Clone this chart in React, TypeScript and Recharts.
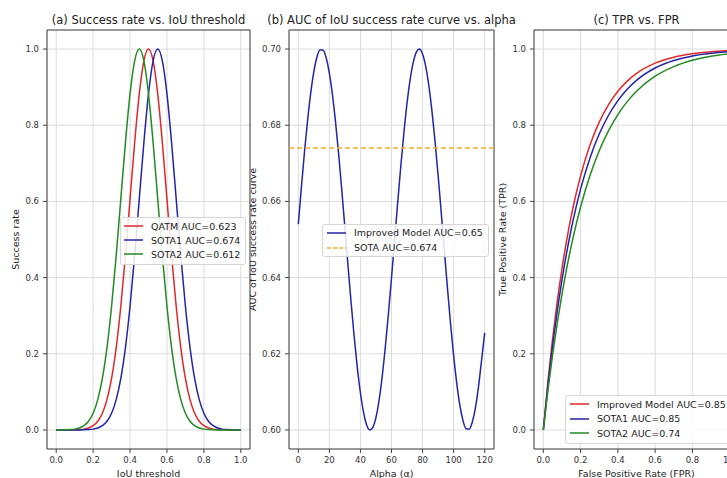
import { LineChart, Line, XAxis, YAxis, CartesianGrid, ReferenceArea, ReferenceLine } from 'recharts';

const FONT = '"DejaVu Sans", sans-serif';
const RED = '#e02828';
const BLUE = '#2424a8';
const GREEN = '#228b22';
const ORANGE = '#f5ad2e';

// (a) success rate vs IoU threshold
const iouThresholds = [0, 0.025, 0.05, 0.075, 0.1, 0.125, 0.15, 0.175, 0.2, 0.225, 0.25, 0.275, 0.3, 0.325, 0.35, 0.375, 0.4, 0.425, 0.45, 0.475, 0.5, 0.525, 0.55, 0.575, 0.6, 0.625, 0.65, 0.675, 0.7, 0.725, 0.75, 0.775, 0.8, 0.825, 0.85, 0.875, 0.9, 0.925, 0.95, 0.975, 1];
const qatmRate = [0, 0, 0, 0.0001, 0.0003, 0.0009, 0.0022, 0.0051, 0.0111, 0.0228, 0.0439, 0.0796, 0.1353, 0.2163, 0.3247, 0.4578, 0.6065, 0.7548, 0.8825, 0.9692, 1, 0.9692, 0.8825, 0.7548, 0.6065, 0.4578, 0.3247, 0.2163, 0.1353, 0.0796, 0.0439, 0.0228, 0.0111, 0.0051, 0.0022, 0.0009, 0.0003, 0.0001, 0, 0, 0];
const sota1Rate = [0, 0, 0, 0, 0, 0.0001, 0.0003, 0.0009, 0.0022, 0.0051, 0.0111, 0.0228, 0.0439, 0.0796, 0.1353, 0.2163, 0.3247, 0.4578, 0.6065, 0.7548, 0.8825, 0.9692, 1, 0.9692, 0.8825, 0.7548, 0.6065, 0.4578, 0.3247, 0.2163, 0.1353, 0.0796, 0.0439, 0.0228, 0.0111, 0.0051, 0.0022, 0.0009, 0.0003, 0.0001, 0];
const sota2Rate = [0, 0.0001, 0.0003, 0.0009, 0.0022, 0.0051, 0.0111, 0.0228, 0.0439, 0.0796, 0.1353, 0.2163, 0.3247, 0.4578, 0.6065, 0.7548, 0.8825, 0.9692, 1, 0.9692, 0.8825, 0.7548, 0.6065, 0.4578, 0.3247, 0.2163, 0.1353, 0.0796, 0.0439, 0.0228, 0.0111, 0.0051, 0.0022, 0.0009, 0.0003, 0.0001, 0, 0, 0, 0, 0];

// (b) AUC vs alpha
const alphaValues = [0, 2, 4, 6, 8, 10, 12, 14, 16, 18, 20, 22, 24, 26, 28, 30, 32, 34, 36, 38, 40, 42, 44, 46, 48, 50, 52, 54, 56, 58, 60, 62, 64, 66, 68, 70, 72, 74, 76, 78, 80, 82, 84, 86, 88, 90, 92, 94, 96, 98, 100, 102, 104, 106, 108, 110, 112, 114, 116, 118, 120];
const improvedAuc = [0.654, 0.6638, 0.6731, 0.6814, 0.6885, 0.6941, 0.6979, 0.6998, 0.6997, 0.6976, 0.6936, 0.6879, 0.6807, 0.6723, 0.6629, 0.6531, 0.6431, 0.6334, 0.6244, 0.6163, 0.6097, 0.6046, 0.6013, 0.6, 0.6007, 0.6033, 0.6078, 0.614, 0.6217, 0.6304, 0.6399, 0.6498, 0.6598, 0.6693, 0.6781, 0.6858, 0.692, 0.6965, 0.6992, 0.7, 0.6987, 0.6955, 0.6905, 0.6839, 0.6759, 0.6669, 0.6572, 0.6472, 0.6374, 0.628, 0.6195, 0.6123, 0.6065, 0.6025, 0.6003, 0.6002, 0.602, 0.6057, 0.6113, 0.6183, 0.6255];
const sotaAuc = 0.674;

// (c) ROC
const fprValues = [0, 0.025, 0.05, 0.075, 0.1, 0.125, 0.15, 0.175, 0.2, 0.25, 0.3, 0.35, 0.4, 0.45, 0.5, 0.6, 0.7, 0.8, 0.9, 1];
const improvedTpr = [0, 0.1285, 0.2404, 0.338, 0.4231, 0.4972, 0.5618, 0.6181, 0.6671, 0.7472, 0.808, 0.8541, 0.8892, 0.9158, 0.9361, 0.9631, 0.9787, 0.9877, 0.9929, 0.9959];
const sota1Tpr = [0, 0.1175, 0.2212, 0.3127, 0.3935, 0.4647, 0.5276, 0.5831, 0.6321, 0.7135, 0.7769, 0.8262, 0.8647, 0.8946, 0.9179, 0.9502, 0.9698, 0.9817, 0.9889, 0.9933];
const sota2Tpr = [0, 0.1042, 0.1975, 0.2811, 0.356, 0.4231, 0.4831, 0.537, 0.5852, 0.6671, 0.7329, 0.7856, 0.828, 0.8619, 0.8892, 0.9286, 0.954, 0.9704, 0.9809, 0.9877];

const unitTicks = [0, 0.2, 0.4, 0.6, 0.8, 1.0];
const alphaTicks = [0, 20, 40, 60, 80, 100, 120];
const aucTicks = [0.6, 0.62, 0.64, 0.66, 0.68, 0.7];

const iouData = iouThresholds.map((x, i) => ({ x, qatm: qatmRate[i], sota1: sota1Rate[i], sota2: sota2Rate[i] }));
const alphaData = alphaValues.map((x, i) => ({ x, auc: improvedAuc[i] }));
const rocData = fprValues.map((x, i) => ({ x, improved: improvedTpr[i], sota1: sota1Tpr[i], sota2: sota2Tpr[i] }));

const tick = { fontSize: 8.5, fill: '#333', fontFamily: FONT };
const labelStyle = { fontSize: 9.5, fill: '#222', fontFamily: FONT, textAnchor: 'middle' as const };
const H = 478;
const margin = { top: 30, right: 6, bottom: 0, left: 0 };

function Title({ cx, text }: { cx: number; text: string }) {
  return (
    <div style={{ position: 'absolute', left: cx - 160, width: 320, top: 12, lineHeight: '16px', textAlign: 'center', fontSize: 11.5, color: '#222', fontFamily: FONT, whiteSpace: 'nowrap' }}>
      {text}
    </div>
  );
}

function Legend({ left, top, row, pad, items }: { left: number; top: number; row: number; pad: string; items: { label: string; color: string; dashed?: boolean }[] }) {
  return (
    <div style={{ position: 'absolute', left, top, padding: pad, background: 'rgba(255,255,255,0.85)', border: '1px solid #d6d6d6', borderRadius: 3, fontFamily: FONT, fontSize: 9.5, color: '#222' }}>
      {items.map((it) => (
        <div key={it.label} style={{ display: 'flex', alignItems: 'center', height: row, whiteSpace: 'nowrap' }}>
          <svg width={19} height={4} style={{ marginRight: 8 }}>
            <line x1={0} y1={2} x2={19} y2={2} stroke={it.color} strokeWidth={1.5} strokeDasharray={it.dashed ? '4 2' : undefined} />
          </svg>
          <span>{it.label}</span>
        </div>
      ))}
    </div>
  );
}

export default function App() {
  return (
    <div style={{ position: 'absolute', left: 0, top: 0, width: 727, height: H, overflow: 'hidden', background: '#fff' }}>
      <div style={{ position: 'absolute', left: 0, top: 0 }}>
        <LineChart width={256} height={H} data={iouData} margin={margin}>
          <CartesianGrid stroke="#dcdcdc" />
          <XAxis dataKey="x" type="number" domain={[-0.05, 1.05]} ticks={unitTicks} tickFormatter={(v: number) => v.toFixed(1)} allowDataOverflow height={29} tick={tick} tickSize={4} tickMargin={4} axisLine={false} tickLine={{ stroke: '#444' }} label={{ value: 'IoU threshold', position: 'insideBottom', offset: 1, style: labelStyle }} />
          <YAxis type="number" domain={[-0.05, 1.05]} ticks={unitTicks} tickFormatter={(v: number) => v.toFixed(1)} allowDataOverflow width={47} tick={tick} tickSize={4} tickMargin={4} axisLine={false} tickLine={{ stroke: '#444' }} label={{ value: 'Success rate', angle: -90, position: 'insideLeft', offset: 16, style: labelStyle }} />
          <Line dataKey="qatm" type="monotone" stroke={RED} strokeWidth={1.5} dot={false} isAnimationActive={false} />
          <Line dataKey="sota1" type="monotone" stroke={BLUE} strokeWidth={1.5} dot={false} isAnimationActive={false} />
          <Line dataKey="sota2" type="monotone" stroke={GREEN} strokeWidth={1.5} dot={false} isAnimationActive={false} />
          <ReferenceArea x1={-0.05} x2={1.05} y1={-0.05} y2={1.05} fill="none" stroke="#444" strokeWidth={1} ifOverflow="visible" />
        </LineChart>
      </div>
      <div style={{ position: 'absolute', left: 250, top: 0 }}>
        <LineChart width={250} height={H} data={alphaData} margin={margin}>
          <CartesianGrid stroke="#dcdcdc" />
          <XAxis dataKey="x" type="number" domain={[-6, 126]} ticks={alphaTicks} allowDataOverflow height={29} tick={tick} tickSize={4} tickMargin={4} axisLine={false} tickLine={{ stroke: '#444' }} label={{ value: 'Alpha (α)', position: 'insideBottom', offset: 1, style: labelStyle }} />
          <YAxis type="number" domain={[0.595, 0.705]} ticks={aucTicks} tickFormatter={(v: number) => v.toFixed(2)} allowDataOverflow width={39} tick={tick} tickSize={4} tickMargin={4} axisLine={false} tickLine={{ stroke: '#444' }} label={{ value: 'AUC of IoU success rate curve', angle: -90, position: 'insideLeft', offset: 3, style: labelStyle }} />
          <Line dataKey="auc" type="monotone" stroke={BLUE} strokeWidth={1.5} dot={false} isAnimationActive={false} />
          <ReferenceLine y={sotaAuc} stroke={ORANGE} strokeWidth={1.5} strokeDasharray="5 3" />
          <ReferenceArea x1={-6} x2={126} y1={0.595} y2={0.705} fill="none" stroke="#444" strokeWidth={1} ifOverflow="visible" />
        </LineChart>
      </div>
      <div style={{ position: 'absolute', left: 495, top: 0 }}>
        <LineChart width={250} height={H} data={rocData} margin={margin}>
          <CartesianGrid stroke="#dcdcdc" />
          <XAxis dataKey="x" type="number" domain={[-0.05, 1.05]} ticks={unitTicks} tickFormatter={(v: number) => v.toFixed(1)} allowDataOverflow height={29} tick={tick} tickSize={4} tickMargin={4} axisLine={false} tickLine={{ stroke: '#444' }} label={{ value: 'False Positive Rate (FPR)', position: 'insideBottom', offset: 1, style: labelStyle }} />
          <YAxis type="number" domain={[-0.05, 1.05]} ticks={unitTicks} tickFormatter={(v: number) => v.toFixed(1)} allowDataOverflow width={39} tick={tick} tickSize={4} tickMargin={4} axisLine={false} tickLine={{ stroke: '#444' }} label={{ value: 'True Positive Rate (TPR)', angle: -90, position: 'insideLeft', offset: 8, style: labelStyle }} />
          <Line dataKey="improved" type="monotone" stroke={RED} strokeWidth={1.5} dot={false} isAnimationActive={false} />
          <Line dataKey="sota1" type="monotone" stroke={BLUE} strokeWidth={1.5} dot={false} isAnimationActive={false} />
          <Line dataKey="sota2" type="monotone" stroke={GREEN} strokeWidth={1.5} dot={false} isAnimationActive={false} />
          <ReferenceArea x1={-0.05} x2={1.05} y1={-0.05} y2={1.05} fill="none" stroke="#444" strokeWidth={1} ifOverflow="visible" />
        </LineChart>
      </div>

      <Title cx={148.5} text="(a) Success rate vs. IoU threshold" />
      <Title cx={391.5} text="(b) AUC of IoU success rate curve vs. alpha" />
      <Title cx={636.5} text="(c) TPR vs. FPR" />

      <Legend left={120} top={217} row={14} pad="1px 5px 3px 3px" items={[
        { label: 'QATM AUC=0.623', color: RED },
        { label: 'SOTA1 AUC=0.674', color: BLUE },
        { label: 'SOTA2 AUC=0.612', color: GREEN },
      ]} />
      <Legend left={322} top={224} row={15} pad="0px 5px 1px 4px" items={[
        { label: 'Improved Model AUC=0.65', color: BLUE },
        { label: `SOTA AUC=${sotaAuc}`, color: ORANGE, dashed: true },
      ]} />
      <Legend left={565} top={395} row={14.5} pad="1px 5px 2px 4px" items={[
        { label: 'Improved Model AUC=0.85', color: RED },
        { label: 'SOTA1 AUC=0.85', color: BLUE },
        { label: 'SOTA2 AUC=0.74', color: GREEN },
      ]} />
    </div>
  );
}
